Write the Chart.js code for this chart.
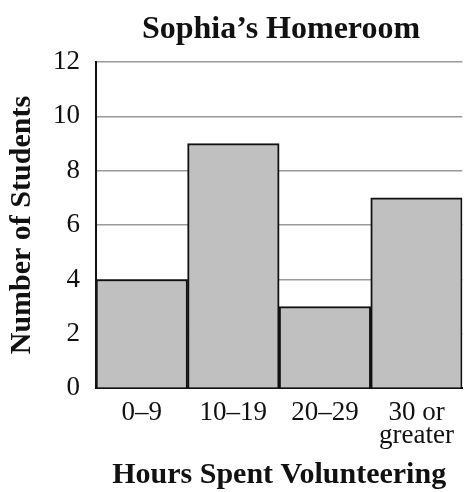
<!DOCTYPE html>
<html>
<head>
<meta charset="utf-8">
<script src="https://cdn.jsdelivr.net/npm/chart.js@4.4.1/dist/chart.umd.min.js"></script>
<style>
  html, body { margin: 0; padding: 0; background: #fff; overflow: hidden; }
  #wrap { width: 468px; height: 492px; }
  .preload { position: absolute; left: -999px; top: 0; font-family: "Liberation Serif"; font-size: 27px; }
</style>
</head>
<body>
<span class="preload">0123456789 greater</span>
<span class="preload" style="font-weight: bold">Hours Spent</span>
<div id="wrap"><canvas id="chart"></canvas></div>
<script>
var hourLabels = ['0\u20139', '10\u201319', '20\u201329', ['30 or', 'greater']]

var studentCounts = [4, 9, 3, 7]

var serif = '"Liberation Serif", "Times New Roman", serif'

Chart.defaults.font.family = serif
Chart.defaults.color = '#111'

// title centred over the plot area rather than the whole canvas
var plotTitle = {
    id: 'plotTitle',
    afterDraw: function (chart) {
        var ctx = chart.ctx
        var area = chart.chartArea
        ctx.save()
        ctx.font = 'bold 32px ' + serif
        ctx.fillStyle = '#111'
        ctx.textAlign = 'center'
        ctx.textBaseline = 'middle'
        ctx.fillText('Sophia\u2019s Homeroom', (area.left + 466) / 2, 30)
        ctx.restore()
    }
}

function drawChart() {
    new Chart(
        document.getElementById('chart'),
        {
            type: 'bar',
            data: {
                labels: hourLabels,
                datasets: [
                    {
                        data: studentCounts,
                        backgroundColor: '#c0c0c0',
                        borderColor: '#111',
                        borderWidth: 2,
                        barPercentage: 1,
                        categoryPercentage: 1
                    }
                ]
            },
            options: {
                responsive: true,
                maintainAspectRatio: false,
                animation: false,
                layout: {
                    padding: { top: 62, right: 0, left: 7, bottom: 3 }
                },
                plugins: {
                    legend: { display: false },
                    tooltip: { enabled: false }
                },
                scales: {
                    x: {
                        grid: { display: false, drawTicks: false },
                        border: { color: '#111', width: 2 },
                        ticks: {
                            color: '#111',
                            padding: 14,
                            maxRotation: 0,
                            font: { family: serif, size: 27, lineHeight: 0.82 }
                        },
                        title: {
                            display: true,
                            text: 'Hours Spent Volunteering',
                            color: '#111',
                            padding: 0,
                            font: { family: serif, size: 30, weight: 'bold', lineHeight: 0.95 }
                        }
                    },
                    y: {
                        min: 0,
                        max: 12,
                        grid: { color: '#9a9a9a', lineWidth: 1.5, drawTicks: false },
                        border: { color: '#111', width: 2 },
                        ticks: {
                            stepSize: 2,
                            color: '#111',
                            padding: 16,
                            font: { family: serif, size: 27 }
                        },
                        title: {
                            display: true,
                            text: 'Number of Students',
                            color: '#111',
                            padding: 0,
                            font: { family: serif, size: 30, weight: 'bold', lineHeight: 1 }
                        }
                    }
                }
            },
            plugins: [plotTitle]
        }
    );
}

// make sure the serif faces are ready before the canvas uses them
if (document.fonts && document.fonts.load) {
    Promise.all([
        document.fonts.load('27px "Liberation Serif"'),
        document.fonts.load('bold 30px "Liberation Serif"')
    ]).then(drawChart, drawChart)
} else {
    drawChart()
}
</script>
</body>
</html>
